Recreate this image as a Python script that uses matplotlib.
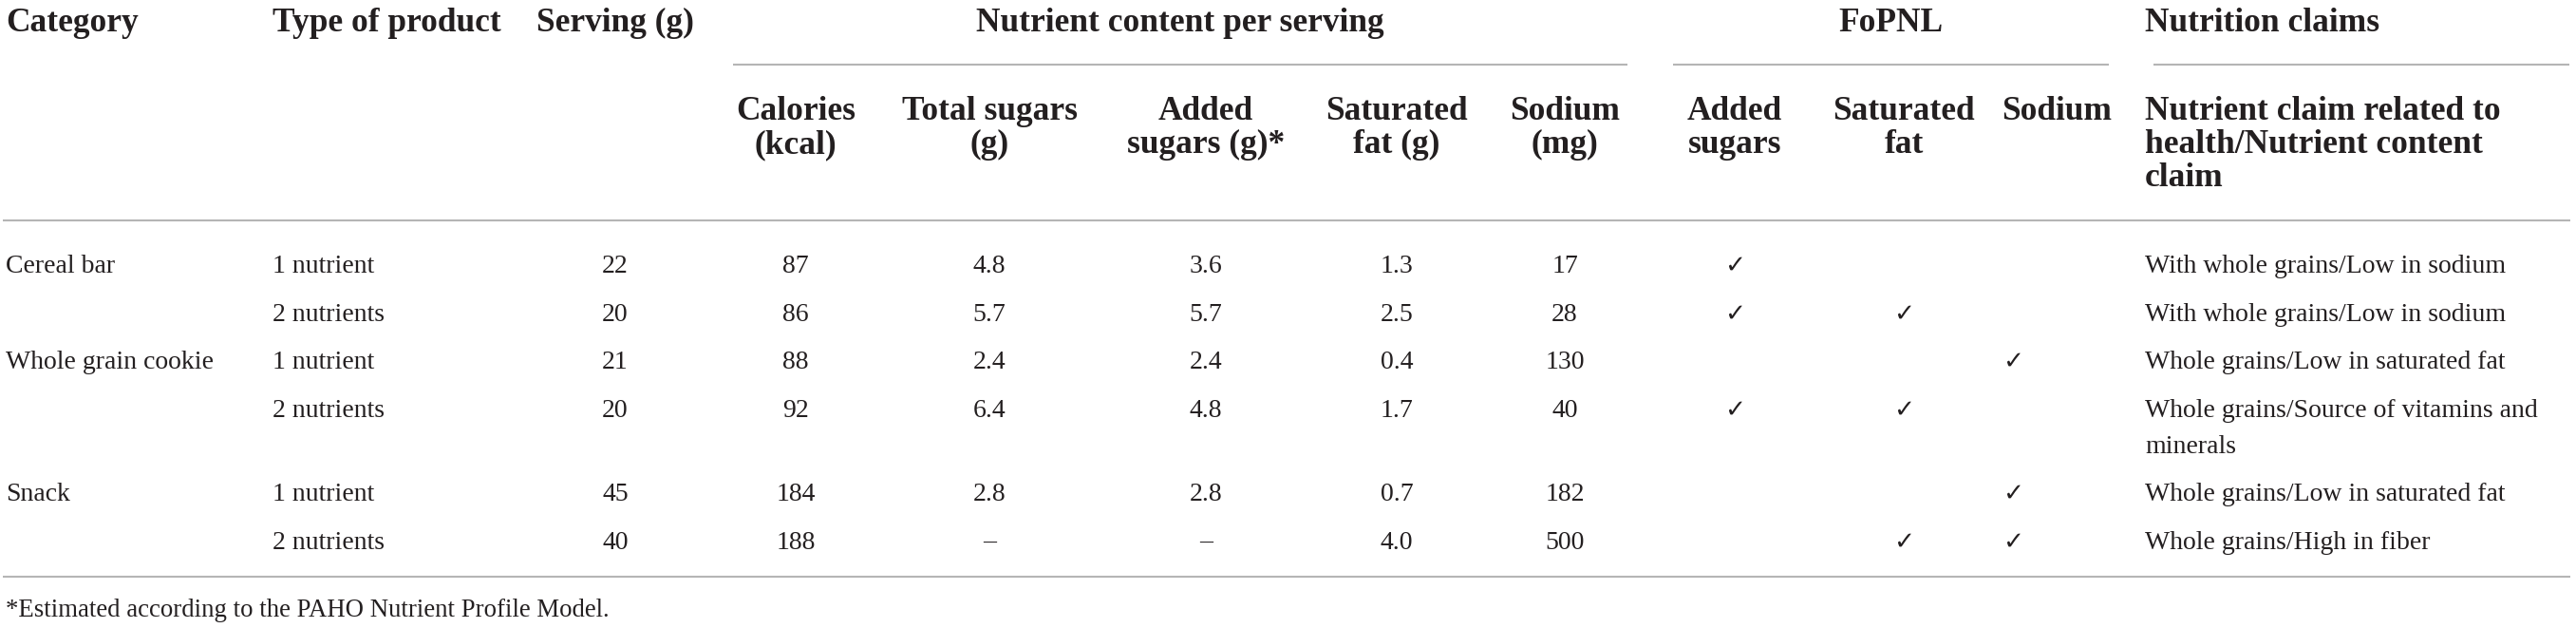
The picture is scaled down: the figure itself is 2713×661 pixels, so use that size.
import textwrap
import matplotlib
matplotlib.use("Agg")
import matplotlib.pyplot as plt

# table content
categories = ["Cereal bar", "", "Whole grain cookie", "", "Snack", ""]
product_types = ["1 nutrient", "2 nutrients", "1 nutrient", "2 nutrients", "1 nutrient", "2 nutrients"]
serving = [22, 20, 21, 20, 45, 40]
calories = [87, 86, 88, 92, 184, 188]
total_sugars = [4.8, 5.7, 2.4, 6.4, 2.8, None]
added_sugars = [3.6, 5.7, 2.4, 4.8, 2.8, None]
saturated_fat = [1.3, 2.5, 0.4, 1.7, 0.7, 4.0]
sodium = [17, 28, 130, 40, 182, 500]
fop_added_sugars = [1, 1, 0, 1, 0, 0]
fop_saturated_fat = [0, 1, 0, 1, 0, 1]
fop_sodium = [0, 0, 1, 0, 1, 1]
claims = ["With whole grains/Low in sodium",
          "With whole grains/Low in sodium",
          "Whole grains/Low in saturated fat",
          "Whole grains/Source of vitamins and minerals",
          "Whole grains/Low in saturated fat",
          "Whole grains/High in fiber"]
footnote = "*Estimated according to the PAHO Nutrient Profile Model."

W, H = 2713, 661
fig = plt.figure(figsize=(W / 100, H / 100), dpi=100)
ax = fig.add_axes([0, 0, 1, 1])
ax.set_xlim(0, W)
ax.set_ylim(H, 0)
ax.axis("off")

serif = "Liberation Serif"
ink = "#231f20"
rule = "#b5b5b5"
hsize = 25.5
bsize = 20

# column positions (pixels)
x_cat, x_type, x_serv = 6, 287, 648
x_cal, x_tot, x_add, x_sat, x_sod = 838, 1042, 1270, 1471, 1648
x_fa, x_fs, x_fn = 1827, 2005, 2120
x_claim = 2259


def head(x, y, s, ha="center"):
    ax.text(x, y, s, ha=ha, va="baseline", fontsize=hsize, fontweight="bold",
            family=serif, color=ink)


def cell(x, y, s, ha="center"):
    ax.text(x, y, s, ha=ha, va="baseline", fontsize=bsize, family=serif, color=ink)


# top header row
head(x_cat, 33, "Category", "left")
head(x_type, 33, "Type of product", "left")
head(x_serv, 33, "Serving (g)")
head((772 + 1714) / 2, 33, "Nutrient content per serving")
head((1762 + 2221) / 2, 33, "FoPNL")
head(x_claim, 33, "Nutrition claims", "left")

# group rules
for x0, x1 in [(772, 1714), (1762, 2221), (2268, 2706)]:
    ax.plot([x0, x1], [68, 68], color=rule, lw=1.5, solid_capstyle="butt")

# sub headers
sub = [(x_cal, ["Calories", "(kcal)"], "center"),
       (x_tot, ["Total sugars", "(g)"], "center"),
       (x_add, ["Added", "sugars (g)*"], "center"),
       (x_sat, ["Saturated", "fat (g)"], "center"),
       (x_sod, ["Sodium", "(mg)"], "center"),
       (x_fa, ["Added", "sugars"], "center"),
       (x_fs, ["Saturated", "fat"], "center"),
       (2108, ["Sodium"], "left"),
       (x_claim, ["Nutrient claim related to", "health/Nutrient content", "claim"], "left")]
for x, lines, ha in sub:
    for k, s in enumerate(lines):
        head(x, 126 + 35 * k, s, ha)

ax.plot([3, 2707], [232, 232], color=rule, lw=1.5, solid_capstyle="butt")

# body
baselines = [287, 338, 388, 439, 527, 578]


def fmt(v):
    return "\u2013" if v is None else f"{v}"


for i, yb in enumerate(baselines):
    cell(x_cat, yb, categories[i], "left")
    cell(x_type, yb, product_types[i], "left")
    cell(x_serv, yb, fmt(serving[i]))
    cell(x_cal, yb, fmt(calories[i]))
    cell(x_tot, yb, fmt(total_sugars[i]))
    cell(x_add, yb, fmt(added_sugars[i]))
    cell(x_sat, yb, fmt(saturated_fat[i]))
    cell(x_sod, yb, fmt(sodium[i]))
    for x, flags in [(x_fa, fop_added_sugars), (x_fs, fop_saturated_fat), (x_fn, fop_sodium)]:
        if flags[i]:
            ax.text(x, yb, "\u2713", ha="center", va="baseline", fontsize=19,
                    family=[serif, "DejaVu Sans"], color=ink)
    for k, line in enumerate(textwrap.wrap(claims[i], 35)):
        cell(x_claim, yb + 38 * k, line, "left")

ax.plot([3, 2707], [607, 607], color=rule, lw=1.5, solid_capstyle="butt")

ax.text(6, 649, footnote, ha="left", va="baseline", fontsize=19.3, family=serif, color=ink)

fig.savefig("out.png", dpi=100, facecolor="white")
